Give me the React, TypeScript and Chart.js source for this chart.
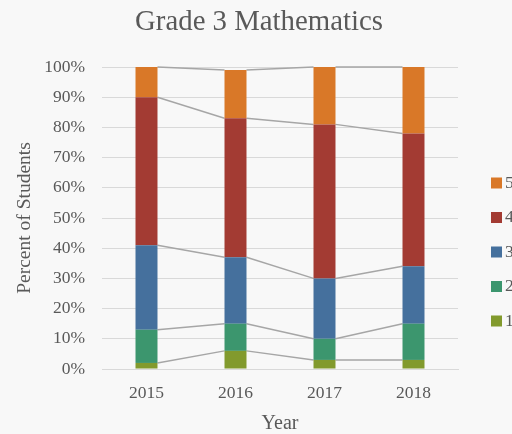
import React, { useEffect, useRef } from "react";
import { Chart, registerables } from "chart.js";

Chart.register(...registerables);

const years = ["2015", "2016", "2017", "2018"];
const levelLabels = ["1", "2", "3", "4", "5"];
const level1 = [2, 6, 3, 3];
const level2 = [11, 9, 7, 12];
const level3 = [28, 22, 20, 19];
const level4 = [49, 46, 51, 44];
const level5 = [10, 16, 19, 22];
const levelColors = ["#829A2D", "#3C966E", "#45709D", "#A33B33", "#D97828"];
const yTicks = [0, 10, 20, 30, 40, 50, 60, 70, 80, 90, 100];
const chartTitle = "Grade 3 Mathematics";

const TEXT = "#595959";
const FONT = "'Liberation Serif', 'DejaVu Serif', serif";

const seriesLines = {
  id: "seriesLines",
  beforeDatasetsDraw(chart: any) {
    const ctx = chart.ctx;
    ctx.save();
    ctx.strokeStyle = "#A6A6A6";
    ctx.lineWidth = 1.5;
    chart.data.datasets.forEach((_d: any, i: number) => {
      const meta = chart.getDatasetMeta(i);
      for (let j = 0; j < meta.data.length - 1; j++) {
        const a = meta.data[j];
        const b = meta.data[j + 1];
        ctx.beginPath();
        ctx.moveTo(a.x + a.width / 2, a.y);
        ctx.lineTo(b.x - b.width / 2, b.y);
        ctx.stroke();
      }
    });
    ctx.restore();
  },
};

const customLegend = {
  id: "customLegend",
  afterDraw(chart: any) {
    const ctx = chart.ctx;
    ctx.save();
    const ds = chart.data.datasets;
    const startY = 183;
    const step = 34.5;
    ctx.font = `17.5px ${FONT}`;
    ctx.textBaseline = "middle";
    ctx.textAlign = "left";
    for (let k = 0; k < ds.length; k++) {
      const d = ds[ds.length - 1 - k];
      const cy = startY + k * step;
      ctx.fillStyle = d.backgroundColor;
      ctx.fillRect(491, cy - 5.5, 11, 11);
      ctx.fillStyle = TEXT;
      ctx.fillText(d.label, 505, cy);
    }
    // chart title
    ctx.font = `28.8px ${FONT}`;
    ctx.textAlign = "center";
    ctx.fillStyle = TEXT;
    ctx.fillText(chartTitle, 259, 22);
    ctx.restore();
  },
};

const bgPlugin = {
  id: "bgPlugin",
  beforeDraw(chart: any) {
    const ctx = chart.ctx;
    ctx.save();
    ctx.fillStyle = "#F8F8F8";
    ctx.fillRect(0, 0, chart.width, chart.height);
    ctx.restore();
  },
};

export default function App() {
  const ref = useRef<HTMLCanvasElement | null>(null);
  useEffect(() => {
    if (!ref.current) return;
    const series = [level1, level2, level3, level4, level5];
    const chart = new Chart(ref.current, {
      type: "bar",
      data: {
        labels: years,
        datasets: series.map((vals, i) => ({
          label: levelLabels[i],
          data: vals,
          backgroundColor: levelColors[i],
          borderWidth: 0,
          categoryPercentage: 1,
          barPercentage: 0.247,
        })),
      },
      options: {
        responsive: false,
        maintainAspectRatio: false,
        animation: false,
        layout: { padding: { left: 0, right: 54, top: 67, bottom: 0 } },
        plugins: {
          legend: { display: false },
          tooltip: { enabled: false },
          title: { display: false },
        },
        scales: {
          x: {
            stacked: true,
            grid: { display: false, drawTicks: false },
            border: { display: true, color: "#D9D9D9", width: 1 },
            ticks: { color: TEXT, font: { family: FONT, size: 17.5 }, padding: 13.5 },
            title: {
              display: true,
              text: "Year",
              color: TEXT,
              font: { family: FONT, size: 20 },
              padding: { top: 0, bottom: -2 },
            },
            afterFit(scale: any) {
              scale.height = 65;
            },
          },
          y: {
            stacked: true,
            min: 0,
            max: 100,
            grid: { color: "#D9D9D9", lineWidth: 1, drawTicks: false },
            border: { display: false },
            afterBuildTicks(scale: any) {
              scale.ticks = yTicks.map((v) => ({ value: v }));
            },
            ticks: {
              color: TEXT,
              font: { family: FONT, size: 17.5 },
              padding: 17,
              callback: (v: any) => v + "%",
            },
            title: {
              display: true,
              text: "Percent of Students",
              color: TEXT,
              font: { family: FONT, size: 19.5 },
              padding: { top: 13, bottom: 0 },
            },
            afterFit(scale: any) {
              scale.width = 102;
            },
          },
        },
      },
      plugins: [bgPlugin, seriesLines, customLegend],
    });
    return () => chart.destroy();
  }, []);
  return (
    <div style={{ position: "fixed", left: 0, top: 0, width: 512, height: 434, overflow: "hidden" }}>
      <canvas ref={ref} width={512} height={434} style={{ display: "block" }} />
    </div>
  );
}
